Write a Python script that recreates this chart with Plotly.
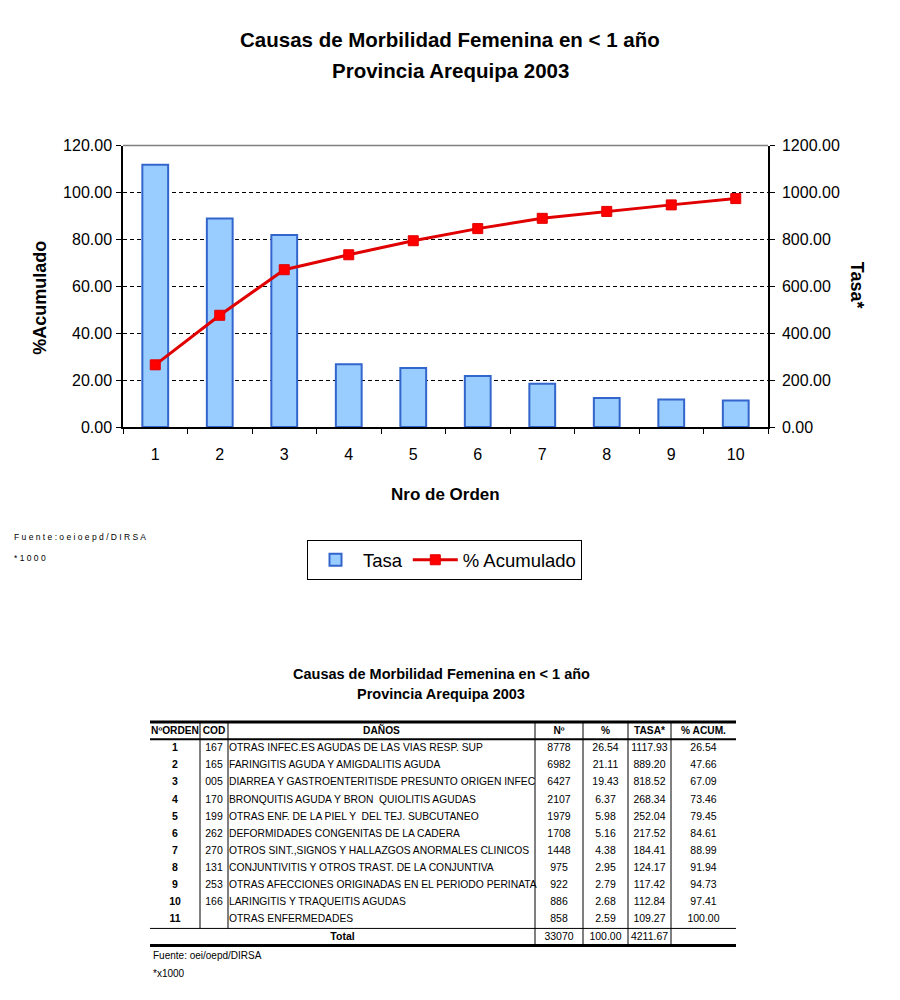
import plotly.graph_objects as go

# ---------------- data ----------------
orden = [1, 2, 3, 4, 5, 6, 7, 8, 9, 10, 11]
cod = ["167", "165", "005", "170", "199", "262", "270", "131", "253", "166", ""]
danos = [
    "OTRAS INFEC.ES AGUDAS DE LAS VIAS RESP. SUP",
    "FARINGITIS AGUDA Y AMIGDALITIS AGUDA",
    "DIARREA Y GASTROENTERITISDE PRESUNTO ORIGEN INFEC",
    "BRONQUITIS AGUDA Y BRON  QUIOLITIS AGUDAS",
    "OTRAS ENF. DE LA PIEL Y  DEL TEJ. SUBCUTANEO",
    "DEFORMIDADES CONGENITAS DE LA CADERA",
    "OTROS SINT.,SIGNOS Y HALLAZGOS ANORMALES CLINICOS",
    "CONJUNTIVITIS Y OTROS TRAST. DE LA CONJUNTIVA",
    "OTRAS AFECCIONES ORIGINADAS EN EL PERIODO PERINATA",
    "LARINGITIS Y TRAQUEITIS AGUDAS",
    "OTRAS ENFERMEDADES",
]
numero = [8778, 6982, 6427, 2107, 1979, 1708, 1448, 975, 922, 886, 858]
pct = [26.54, 21.11, 19.43, 6.37, 5.98, 5.16, 4.38, 2.95, 2.79, 2.68, 2.59]
tasa = [1117.93, 889.20, 818.52, 268.34, 252.04, 217.52, 184.41, 124.17, 117.42, 112.84, 109.27]
acum = [26.54, 47.66, 67.09, 73.46, 79.45, 84.61, 88.99, 91.94, 94.73, 97.41, 100.00]
total_numero = 33070
total_pct = 100.00
total_tasa = 4211.67
header = ["NºORDEN", "COD", "DAÑOS", "Nº", "%", "TASA*", "% ACUM."]

n_chart = 10
cats = [str(o) for o in orden[:n_chart]]

# ---------------- style / layout constants ----------------
FONT = "Liberation Sans, Arial, sans-serif"
W, H = 900, 1000
OFFX = 8
OFFY, SY = 16.6, 0.9814


def fx(px):
    return (px - OFFX) / W


def fy(py):
    return 1 - ((py - OFFY) / SY) / H


PX_L, PX_R, PX_T, PX_B = 123, 768, 146, 427

# table geometry (pixel-like units of a hidden axis)
col_edges = [150, 200, 228, 535, 583, 628, 671, 736]
ROW0_PX, ROW_H = 748, 17.1
TAB_TOP_PX, TAB_BOT_PX = 700, 960


def row_of(px):
    return (px - ROW0_PX) / ROW_H


fig = go.Figure()

# bars (Tasa) on base axis (right side)
fig.add_trace(go.Bar(
    x=cats, y=tasa[:n_chart], name="Tasa",
    marker=dict(color="#99CCFF", line=dict(color="#3366CC", width=2)),
    width=0.4, xaxis="x", yaxis="y",
))
# line (% Acumulado) on overlaying axis (left side)
fig.add_trace(go.Scatter(
    x=cats, y=acum[:n_chart], name="% Acumulado", mode="lines+markers",
    line=dict(color="#E00000", width=3),
    marker=dict(symbol="square", size=10, color="#FF0000", line=dict(color="#E00000", width=1)),
    xaxis="x", yaxis="y2",
))

# ---------------- table as text traces on hidden axis ----------------
rows = list(range(len(orden)))
centers = [(col_edges[i] + col_edges[i + 1]) / 2 for i in range(len(col_edges) - 1)]
hdr_row = -1
tot_row = len(orden)

tf = dict(family=FONT, size=10.5, color="black")
tfd = dict(family=FONT, size=10.3, color="black")
tfb = dict(family=FONT, size=10.5, color="black", weight="bold")
tfh = dict(family=FONT, size=10.2, color="black", weight="bold")


def add_text(xs, ys, texts, pos, font):
    fig.add_trace(go.Scatter(
        x=xs, y=ys, text=texts, mode="text", textposition=pos,
        textfont=font, xaxis="x3", yaxis="y3", showlegend=False, hoverinfo="skip",
        cliponaxis=False,
    ))


# header
add_text(centers, [hdr_row] * len(header), header, "middle center", tfh)
# body
add_text([centers[0]] * len(rows), rows, [str(o) for o in orden], "middle center", tfb)
add_text([centers[1]] * len(rows), rows, cod, "middle center", tf)
add_text([col_edges[2] + 1] * len(rows), rows, danos, "middle right", tfd)
add_text([centers[3]] * len(rows), rows, [str(v) for v in numero], "middle center", tf)
add_text([centers[4]] * len(rows), rows, [f"{v:.2f}" for v in pct], "middle center", tf)
add_text([centers[5]] * len(rows), rows, [f"{v:.2f}" for v in tasa], "middle center", tf)
add_text([centers[6]] * len(rows), rows, [f"{v:.2f}" for v in acum], "middle center", tf)
# total row
add_text([(col_edges[0] + col_edges[3]) / 2], [tot_row], ["Total"], "middle center", tfb)
add_text([centers[3], centers[4], centers[5]], [tot_row] * 3,
         [str(total_numero), f"{total_pct:.2f}", f"{total_tasa:.2f}"], "middle center", tf)

shapes = []
top_r = hdr_row - 0.55
hdr_bot = hdr_row + 0.45
tot_top = tot_row - 0.5
bot_r = tot_row + 0.5


def hline(y, w):
    shapes.append(dict(type="line", xref="x3", yref="y3", x0=col_edges[0], x1=col_edges[-1],
                       y0=y, y1=y, line=dict(color="black", width=w)))


hline(top_r, 3)
hline(hdr_bot, 2)
hline(tot_top, 1)
hline(bot_r, 3)
for i, xe in enumerate(col_edges[1:-1], start=1):
    y1 = tot_top if i < 3 else bot_r
    shapes.append(dict(type="line", xref="x3", yref="y3", x0=xe, x1=xe, y0=top_r, y1=y1,
                       line=dict(color="black", width=1)))

# top border of chart plot area (gray)
shapes.append(dict(type="line", xref="x domain", yref="y domain", x0=0, x1=1, y0=1, y1=1,
                   line=dict(color="#808080", width=1.5)))


def ann(text, x, y, size, angle=0, xanchor="center"):
    return dict(text=text, x=fx(x), y=fy(y), xref="paper", yref="paper", showarrow=False,
                xanchor=xanchor, yanchor="middle", textangle=angle,
                font=dict(family=FONT, size=size, color="black"))


annotations = [
    ann("<b>Causas de Morbilidad Femenina en < 1 año</b>", 450, 40, 20.5),
    ann("<b>Provincia Arequipa 2003</b>", 450, 71, 20.5),
    ann("<b>%Acumulado</b>", 40, 298, 18, angle=-90),
    ann("<b>Tasa*</b>", 857, 285, 18, angle=90),
    ann("<b>Nro de Orden</b>", (PX_L + PX_R) / 2, 494, 17),
    ann("F u e n t e : o e i o e p d / D I R S A", 12, 537, 8.5, xanchor="left"),
    ann("* 1 0 0 0", 12, 558, 8.5, xanchor="left"),
    ann("<b>Causas de Morbilidad Femenina en < 1 año</b>", 441, 674, 14.5),
    ann("<b>Provincia Arequipa 2003</b>", 441, 693, 14.5),
    ann("Fuente: oei/oepd/DIRSA", 151, 955, 10, xanchor="left"),
    ann("*x1000", 151, 973, 10, xanchor="left"),
]

axis_font = dict(family=FONT, size=16, color="black")
fig.update_layout(
    width=W, height=H, margin=dict(l=0, r=0, t=0, b=0),
    paper_bgcolor="white", plot_bgcolor="white",
    font=dict(family=FONT, color="black"),
    showlegend=True,
    legend=dict(orientation="h", x=fx(307), y=fy(540), xanchor="left", yanchor="top",
                bordercolor="black", borderwidth=1, bgcolor="white",
                font=dict(family=FONT, size=18.5), itemwidth=45, traceorder="normal"),
    xaxis=dict(domain=[fx(PX_L), fx(PX_R)], anchor="y", type="category",
               range=[-0.5, n_chart - 0.5], autorange=False,
               showline=True, linecolor="black", linewidth=1.5,
               ticks="outside", ticklen=5, tickcolor="black", tickson="boundaries",
               ticklabelstandoff=12,
               tickfont=axis_font, showgrid=False, zeroline=False, fixedrange=True),
    yaxis=dict(domain=[fy(PX_B), fy(PX_T)], anchor="x", side="right",
               range=[0, 1200], dtick=200, tickformat=".2f",
               showline=True, linecolor="black", linewidth=1.5,
               ticks="outside", ticklen=5, tickcolor="black", tickfont=axis_font,
               ticklabelstandoff=4,
               showgrid=True, gridcolor="black", griddash="4px,3px", gridwidth=1,
               zeroline=False),
    yaxis2=dict(overlaying="y", side="left", anchor="x",
                range=[0, 120], dtick=20, tickformat=".2f",
                showline=True, linecolor="black", linewidth=1.5,
                ticks="outside", ticklen=5, tickcolor="black", tickfont=axis_font,
                ticklabelstandoff=1,
                showgrid=False, zeroline=False),
    xaxis3=dict(domain=[0, 1], range=[OFFX, W + OFFX], anchor="y3", visible=False,
                fixedrange=True),
    yaxis3=dict(domain=[fy(TAB_BOT_PX), fy(TAB_TOP_PX)],
                range=[row_of(TAB_BOT_PX), row_of(TAB_TOP_PX)], anchor="x3", visible=False,
                fixedrange=True),
    shapes=shapes,
    annotations=annotations,
)

fig.write_html("out.html")
